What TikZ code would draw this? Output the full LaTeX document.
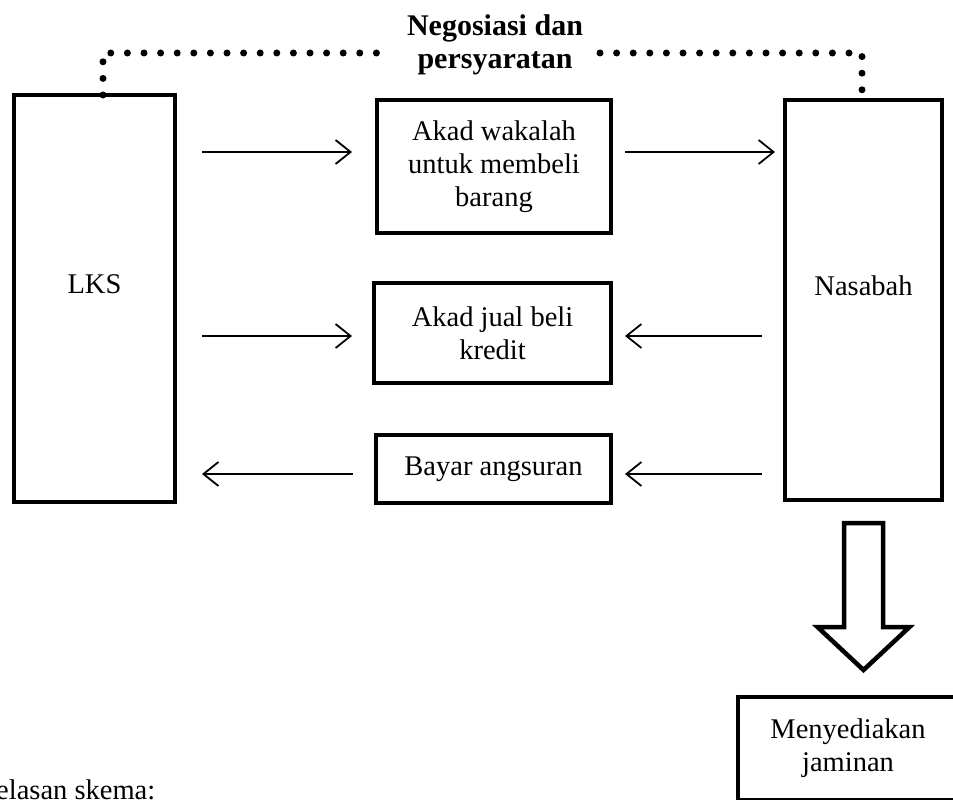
\documentclass[tikz,border=0pt]{standalone}
\usepackage{fontspec}
\setmainfont{Liberation Serif}
\usetikzlibrary{calc,positioning,arrows.meta}

\tikzset{
  box/.style={draw, line width=4.5pt, outer sep=0pt, inner sep=0pt, align=center},
  arr/.style={line width=1.8pt, -{Straight Barb[length=15pt,width=24pt]}},
  dotrow/.style={line width=7pt, line cap=round, dash pattern=on 0pt off 16.6pt},
  bigarr/.style={line width=4.5pt, line join=miter, fill=white}
}

\begin{document}
\begin{tikzpicture}[x=1pt,y=-1pt,font=\fontsize{28.5}{33}\selectfont]
  \clip (0,0) rectangle (953,800);

  \node [box, minimum width=161pt, minimum height=407pt] (lks) at (94.5,298.5) {};
  \node at ([yshift=14pt]lks.center) {LKS};

  \node [box, minimum width=157pt, minimum height=400pt] (nasabah) at (863.5,300) {};
  \node at ([yshift=14pt]nasabah.center) {Nasabah};

  %%

  \node [box, minimum width=234pt, minimum height=133pt] (wakalah) at (494,166.5) {Akad wakalah\\untuk membeli\\barang};
  \node [box, minimum width=237pt, minimum height=100pt] (jualbeli) at (492.5,333) {Akad jual beli\\kredit};
  \node [box, minimum width=235pt, minimum height=68pt] (angsuran) at (493.5,469) {Bayar angsuran};

  \node [box, minimum width=220pt, minimum height=103pt] (jaminan) at (848,748.5) {Menyediakan\\jaminan};

  %%

  \node [align=center, font=\fontsize{30}{33}\selectfont\bfseries] (nego) at (495,45) {Negosiasi dan\\persyaratan};

  \coordinate (dl) at (380,53);
  \coordinate (dr) at (600,53);
  \draw [dotrow] ([xshift=8.5pt]lks.north) |- (dl);
  \draw [dotrow] (dr) -| ([xshift=-1.5pt]nasabah.north);

  %%

  \draw [arr, shorten <=27pt, shorten >=25pt] ([yshift=14.5pt]lks.east |- wakalah.west) -- ([yshift=14.5pt]wakalah.west);
  \draw [arr, shorten <=14pt, shorten >=10pt] ([yshift=14.5pt]wakalah.east) -- ([yshift=14.5pt]wakalah.east -| nasabah.west);

  \draw [arr, shorten <=27pt, shorten >=22pt] ([yshift=-3pt]lks.east |- jualbeli.west) -- ([yshift=-3pt]jualbeli.west);
  \draw [arr, shorten <=23pt, shorten >=14pt] ([yshift=-3pt]nasabah.west |- jualbeli.east) -- ([yshift=-3pt]jualbeli.east);

  \draw [arr, shorten <=23pt, shorten >=27pt] ([yshift=-5pt]angsuran.west) -- ([yshift=-5pt]lks.east |- angsuran.west);
  \draw [arr, shorten <=23pt, shorten >=14pt] ([yshift=-5pt]nasabah.west |- angsuran.east) -- ([yshift=-5pt]angsuran.east);

  %%

  \draw [bigarr] ($(nasabah.south)+(-19.5,23)$) -- ($(nasabah.south)+(19.5,23)$)
    -- ($(nasabah.south)+(19.5,127)$) -- ($(nasabah.south)+(46,127)$)
    -- ($(nasabah.south)+(0,170)$) -- ($(nasabah.south)+(-46,127)$)
    -- ($(nasabah.south)+(-19.5,127)$) -- cycle;

  \node [anchor=base west, inner sep=0pt] (skema) at (-4,799) {elasan skema:};
\end{tikzpicture}
\end{document}
